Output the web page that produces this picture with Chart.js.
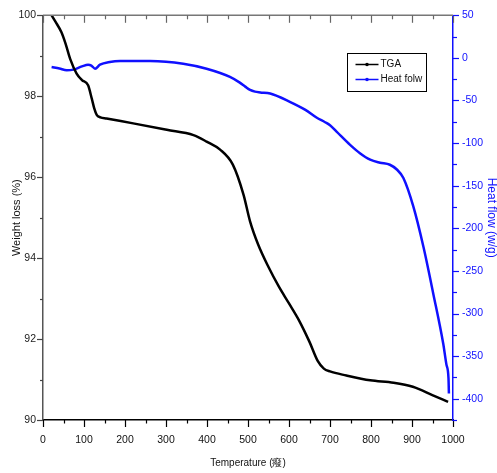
<!DOCTYPE html>
<html>
<head>
<meta charset="utf-8">
<script src="https://cdn.jsdelivr.net/npm/chart.js@4/dist/chart.umd.min.js"></script>
<style>
  html, body { margin: 0; padding: 0; background: #fff; }
  canvas { display: block; }
</style>
</head>
<body>
<canvas id="c" width="497" height="473"></canvas>
<script>
// Thermogravimetric curve: temperature (°C) vs. remaining weight (%)
const tgaTemp = [21, 30, 45, 55, 66, 82, 95, 110, 119, 125, 131, 140, 155, 220, 302, 367, 399, 432, 463, 489, 505, 525, 550, 575, 600, 625, 650, 670, 685, 700, 740, 798, 855, 902, 951, 988];
const tgaWeight = [100, 99.85, 99.58, 99.3, 98.93, 98.56, 98.4, 98.27, 97.94, 97.7, 97.54, 97.48, 97.45, 97.33, 97.17, 97.04, 96.88, 96.68, 96.31, 95.57, 94.91, 94.33, 93.78, 93.3, 92.88, 92.45, 91.93, 91.46, 91.27, 91.2, 91.1, 90.98, 90.92, 90.82, 90.61, 90.45];

// Heat flow curve: temperature (°C) vs. heat flow (w/g)
const hfTemp = [21, 40, 58, 74, 95, 110, 118, 127, 139, 163, 188, 261, 342, 399, 456, 480, 494, 505, 517, 530, 554, 602, 640, 667, 688, 700, 716, 749, 773, 798, 822, 846, 863, 879, 903, 928, 952, 976, 984, 989, 990];
const hfValue = [-10.7, -12.5, -14.5, -13.8, -10, -8, -9, -12.7, -8, -4.8, -3.7, -3.7, -6.8, -12.7, -22.3, -29, -34, -37.6, -39.6, -40.5, -41.8, -51.5, -61, -70, -75.5, -79, -86.5, -102, -111.8, -119.5, -123, -125.4, -131, -141, -174, -222, -277, -335, -360, -376, -394];

const seriesNames = ['TGA', 'Heat folw'];
const xTitle = 'Temperature (癈)';
const yTitle = 'Weight loss (%)';
const y1Title = 'Heat flow (w/g)';

const SANS = '"Liberation Sans Narrow", "Arial Narrow", "Liberation Sans", Arial, sans-serif';
const BLUE = '#1010ff';

const toPoints = (xs, ys) => xs.map((x, i) => ({ x: x, y: ys[i] }));
const keepMultiples = step => scale => {
  scale.ticks = scale.ticks.filter(t => Math.abs(t.value % step) < 1e-9);
};
const plainNumber = v => String(v);

// Major/minor tick marks and the top frame line, placed through the chart's scales
const tickMarks = {
  id: 'tickMarks',
  afterDraw(chart) {
    const ctx = chart.ctx;
    const a = chart.chartArea;
    const sx = chart.scales.x, sy = chart.scales.y, sy1 = chart.scales.y1;
    ctx.save();
    ctx.lineCap = 'butt';

    // top frame
    ctx.strokeStyle = '#777';
    ctx.lineWidth = 1.5;
    ctx.beginPath();
    ctx.moveTo(a.left, a.top);
    ctx.lineTo(a.right, a.top);
    ctx.stroke();

    for (let v = 0; v <= 1000; v += 50) {
      const px = Math.round(sx.getPixelForValue(v)) + 0.5;
      const major = v % 100 === 0;
      // bottom, pointing out
      ctx.strokeStyle = '#000';
      ctx.lineWidth = 1.2;
      ctx.beginPath();
      ctx.moveTo(px, a.bottom);
      ctx.lineTo(px, a.bottom + (major ? 7 : 3.5));
      ctx.stroke();
      // top, pointing in
      ctx.strokeStyle = '#666';
      ctx.beginPath();
      ctx.moveTo(px, a.top);
      ctx.lineTo(px, a.top + (major ? 7.5 : 4));
      ctx.stroke();
    }

    ctx.strokeStyle = '#444';
    for (let v = 90; v <= 100; v += 1) {
      const py = Math.round(sy.getPixelForValue(v)) + 0.5;
      const major = v % 2 === 0;
      ctx.beginPath();
      ctx.moveTo(a.left, py);
      ctx.lineTo(a.left - (major ? 6 : 3), py);
      ctx.stroke();
    }

    ctx.strokeStyle = BLUE;
    for (let v = -425; v <= 50; v += 25) {
      const py = Math.round(sy1.getPixelForValue(v)) + 0.5;
      const major = v % 50 === 0;
      ctx.beginPath();
      ctx.moveTo(a.right, py);
      ctx.lineTo(a.right + (major ? 6 : 4), py);
      ctx.stroke();
    }
    ctx.restore();
  }
};

// Boxed legend inside the plot area
const boxLegend = {
  id: 'boxLegend',
  afterDraw(chart) {
    const ctx = chart.ctx;
    const bx = 347.5, by = 53.5, bw = 79, bh = 38;
    ctx.save();
    ctx.fillStyle = '#fff';
    ctx.fillRect(bx, by, bw, bh);
    ctx.strokeStyle = '#000';
    ctx.lineWidth = 1;
    ctx.strokeRect(bx, by, bw, bh);
    ctx.font = '10px ' + SANS;
    ctx.textBaseline = 'middle';
    ctx.textAlign = 'left';
    chart.data.datasets.forEach((ds, i) => {
      const y = by + 11 + i * 15;
      ctx.strokeStyle = ds.borderColor;
      ctx.lineWidth = 1.5;
      ctx.beginPath();
      ctx.moveTo(bx + 8, y);
      ctx.lineTo(bx + 31, y);
      ctx.stroke();
      ctx.fillStyle = ds.borderColor;
      ctx.beginPath();
      ctx.arc(bx + 19.5, y, 1.8, 0, Math.PI * 2);
      ctx.fill();
      ctx.fillStyle = '#111';
      ctx.fillText(ds.label, bx + 33, y);
    });
    ctx.restore();
  }
};

new Chart(document.getElementById('c'), {
  type: 'line',
  data: {
    datasets: [
      {
        label: seriesNames[0],
        data: toPoints(tgaTemp, tgaWeight),
        yAxisID: 'y',
        borderColor: '#000',
        borderWidth: 2.5,
        pointRadius: 0,
        cubicInterpolationMode: 'monotone',
        fill: false
      },
      {
        label: seriesNames[1],
        data: toPoints(hfTemp, hfValue),
        yAxisID: 'y1',
        borderColor: BLUE,
        borderWidth: 2.5,
        pointRadius: 0,
        cubicInterpolationMode: 'monotone',
        fill: false
      }
    ]
  },
  options: {
    responsive: false,
    animation: false,
    events: [],
    layout: { padding: { top: 13, left: 0, right: 0, bottom: 0 } },
    plugins: { legend: { display: false }, tooltip: { enabled: false }, title: { display: false } },
    scales: {
      x: {
        type: 'linear',
        position: 'bottom',
        min: 0, max: 1000,
        afterBuildTicks: keepMultiples(100),
        afterFit: s => { s.height = 53; },
        grid: { display: false, drawTicks: false },
        border: { display: true, color: '#000', width: 1.5 },
        ticks: { stepSize: 100, padding: 14, color: '#111', maxRotation: 0, callback: plainNumber, font: { family: SANS, size: 10.5 } },
        title: { display: true, text: xTitle, color: '#111', padding: { top: 0, bottom: 4 }, font: { family: SANS, size: 10 } }
      },
      y: {
        position: 'left',
        min: 90, max: 100,
        afterBuildTicks: keepMultiples(2),
        afterFit: s => { s.width = 43; },
        grid: { display: false, drawTicks: false },
        border: { display: true, color: '#555', width: 1.5 },
        ticks: { stepSize: 2, padding: 7, color: '#222', callback: plainNumber, font: { family: SANS, size: 10.5 } },
        title: { display: true, text: yTitle, color: '#111', padding: { top: 10, bottom: 0 }, font: { family: SANS, size: 11 } }
      },
      y1: {
        position: 'right',
        min: -425, max: 50,
        afterBuildTicks: keepMultiples(50),
        afterFit: s => { s.width = 44; },
        grid: { display: false, drawTicks: false },
        border: { display: true, color: BLUE, width: 1.5 },
        ticks: { stepSize: 50, padding: 9, color: BLUE, callback: plainNumber, font: { family: SANS, size: 10.5 } },
        title: { display: true, text: y1Title, color: BLUE, padding: { top: 0, bottom: 0 }, font: { family: SANS, size: 12, lineHeight: 1 } }
      }
    }
  },
  plugins: [tickMarks, boxLegend]
});
</script>
</body>
</html>
